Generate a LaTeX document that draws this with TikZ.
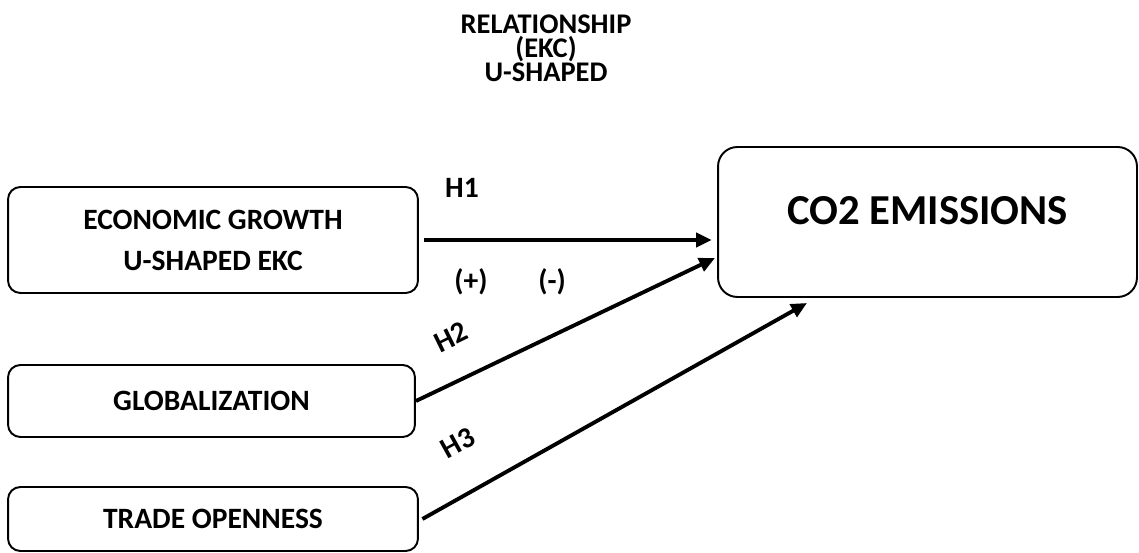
\documentclass[tikz,border=0pt]{standalone}
\usepackage{fontspec}
\setmainfont{Carlito}
\usepackage{tikz}
\usetikzlibrary{arrows.meta}

\begin{document}
\begin{tikzpicture}[x=0.02cm,y=-0.02cm,
 box/.style={draw, line width=1.1pt, rounded corners=7pt, align=center, font=\bfseries\fontsize{16.8}{23.3}\selectfont},
 lab/.style={font=\bfseries\fontsize{16.8}{23.3}\selectfont},
 arr/.style={-{Triangle[length=9pt,width=8pt]}, line width=2.2pt}]
\useasboundingbox (0,0) rectangle (1139,553);

\node[lab, align=center, font=\bfseries\fontsize{16.2}{13.7}\selectfont] (title) at (546,48) {RELATIONSHIP\\(EKC)\\U-SHAPED};

% left boxes
\node[box, minimum width=8.2cm, minimum height=2.12cm, text depth=-0.1cm] (econ) at (213,240) {ECONOMIC GROWTH\\U-SHAPED EKC};
\node[box, minimum width=8.14cm, minimum height=1.44cm] (glob) at (211.5,401) {GLOBALIZATION};
\node[box, minimum width=8.2cm, minimum height=1.28cm] (trade) at (213,519) {TRADE OPENNESS};
% outcome
\node[box, rounded corners=11pt, minimum width=8.38cm, minimum height=3cm, font=\bfseries\fontsize{24.3}{29}\selectfont, text depth=0.45cm] (co2) at (927.5,222) {CO2 EMISSIONS};

\coordinate (h2end) at (715,258);
\coordinate (h3end) at (807,303);

\draw[arr, shorten <=3pt, shorten >=3pt] (econ.east) -- (econ.east -| co2.west);
\draw[arr] (glob.east) -- (h2end);
\draw[arr] ([xshift=2pt]trade.east) -- (h3end);

\node[lab] (h1) at (462,188) {H1};
\node[lab] (pos) at (471,282) {(+)};
\node[lab] (neg) at (552,282) {(-)};
%\node[lab] at (451,337) {H2};
\node[lab, rotate=26] (h2) at (451,337) {H2};
\node[lab, rotate=29] (h3) at (458,443) {H3};

\end{tikzpicture}
\end{document}
